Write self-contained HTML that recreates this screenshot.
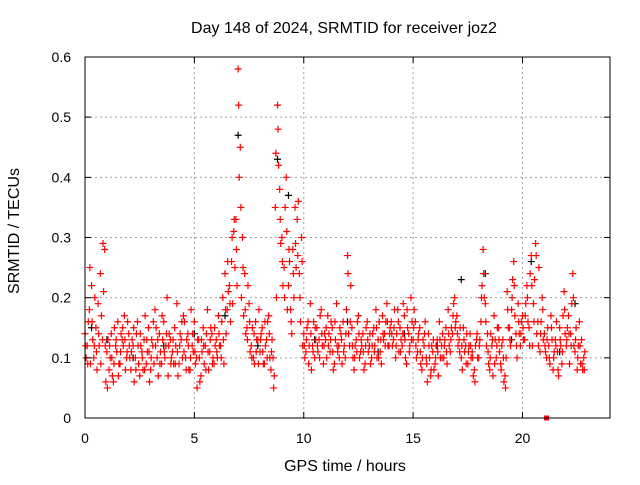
<!DOCTYPE html>
<html><head><meta charset="utf-8"><style>
body{margin:0;background:#fff;}
svg text{font-family:"Liberation Sans",sans-serif;font-size:14px;fill:#000;}
svg text.big{font-size:16px;}
</style></head><body>
<svg id="chart" width="640" height="480" xmlns="http://www.w3.org/2000/svg">
<rect width="640" height="480" fill="#fff"/>
<g id="grid"></g>
<g id="pts"></g>
<rect x="85" y="57" width="525" height="361" fill="none" stroke="#000" stroke-width="1"/>
<g id="ticks"></g>
<text class="big" x="344" y="33" text-anchor="middle">Day 148 of 2024, SRMTID for receiver joz2</text>
<text class="big" x="345" y="471" text-anchor="middle">GPS time / hours</text>
<text class="big" x="19" y="231" text-anchor="middle" transform="rotate(-90 19 231)">SRMTID / TECUs</text>
</svg>
<script>
const xTicks=[0,5,10,15,20];
const yTicks=[0,0.1,0.2,0.3,0.4,0.5,0.6];
const yTickLabels=["0","0.1","0.2","0.3","0.4","0.5","0.6"];
const seriesA=[.14,.12,.18,.22,.10,.15,.19,.24,.13,.28,
.11,.08,.14,.06,.12,.16,.09,.13,.17,.10,
.14,.08,.12,.10,.16,.07,.11,.13,.09,.15,
.08,.12,.18,.10,.14,.09,.16,.12,.07,.13,
.11,.15,.19,.09,.13,.17,.10,.14,.08,.12,
.16,.10,.13,.07,.15,.12,.18,.11,.14,.09,
.13,.17,.12,.20,.24,.18,.22,.26,.31,.33,
.58,.45,.30,.24,.15,.19,.12,.10,.16,.13,
.11,.15,.09,.13,.17,.08,.10,.35,.52,.38,
.30,.25,.40,.22,.18,.28,.35,.33,.24,.30,
.14,.11,.16,.19,.12,.10,.15,.13,.18,.09,
.13,.17,.11,.15,.09,.19,.12,.14,.16,.10,
.27,.12,.15,.08,.13,.17,.11,.14,.09,.16,
.12,.10,.15,.18,.13,.11,.17,.14,.19,.12,
.16,.13,.10,.18,.15,.12,.17,.09,.14,.20,
.13,.16,.11,.15,.08,.12,.10,.14,.07,.11,
.09,.13,.16,.12,.10,.15,.18,.11,.14,.20,
.17,.13,.10,.15,.12,.09,.14,.11,.08,.13,
.10,.16,.28,.19,.14,.08,.12,.17,.10,.15,
.09,.13,.07,.21,.15,.18,.26,.14,.19,.12,
.17,.13,.22,.15,.27,.19,.29,.16,.11,.20,
.14,.10,.12,.17,.08,.13,.11,.15,.09,.21,
.12,.17,.14,.24,.11,.08,.16,.13,.10];
const seriesB=[.10,.16,.09,.13,.20,.08,.12,.17,.21,.06,
.13,.10,.07,.15,.11,.09,.14,.12,.08,.16,
.10,.13,.06,.14,.09,.12,.08,.17,.11,.06,
.13,.09,.15,.07,.11,.13,.10,.20,.14,.10,
.09,.12,.07,.14,.10,.16,.13,.08,.18,.11,
.09,.13,.06,.11,.09,.14,.08,.15,.10,.12,
.10,.12,.16,.09,.14,.21,.16,.19,.25,.22,
.40,.20,.17,.14,.22,.11,.15,.09,.13,.18,
.14,.09,.12,.16,.10,.13,.07,.20,.42,.29,
.22,.35,.18,.26,.14,.20,.25,.36,.16,.12,
.10,.15,.12,.08,.16,.13,.11,.17,.12,.14,
.10,.14,.16,.08,.13,.11,.15,.09,.12,.18,
.14,.22,.10,.12,.16,.10,.12,.08,.15,.11,
.09,.14,.12,.10,.16,.09,.13,.16,.12,.15,
.12,.18,.14,.11,.13,.19,.10,.15,.12,.16,
.18,.10,.14,.09,.13,.16,.06,.10,.12,.08,
.12,.07,.10,.14,.13,.09,.12,.15,.19,.16,
.12,.15,.08,.11,.14,.12,.10,.07,.12,.10,
.13,.22,.20,.12,.09,.14,.07,.13,.15,.11,
.12,.06,.10,.15,.12,.23,.17,.10,.14,.16,
.13,.19,.16,.24,.12,.23,.14,.25,.16,.13,
.11,.15,.09,.13,.11,.16,.07,.12,.17,.14,
.15,.09,.19,.12,.15,.12,.09,.08,.11];
const seriesC=[.12,.09,.25,.16,.12,.11,.14,.09,.29,.12,
.05,.12,.10,.09,.13,.07,.11,.15,.13,.11,
.12,.11,.15,.08,.12,.14,.10,.08,.13,.11,
.10,.16,.12,.13,.09,.17,.11,.14,.12,.09,
.13,.09,.11,.12,.16,.11,.08,.12,.10,.14,
.11,.05,.10,.13,.12,.08,.11,.13,.09,.15,
.11,.14,.10,.13,.18,.26,.19,.30,.33,.28,
.52,.35,.25,.18,.13,.16,.10,.14,.11,.09,
.13,.11,.16,.10,.14,.11,.05,.44,.48,.33,
.26,.20,.31,.28,.16,.24,.29,.27,.20,.26,
.12,.13,.09,.14,.11,.15,.12,.10,.14,.12,
.15,.12,.13,.11,.16,.12,.10,.13,.11,.14,
.24,.16,.12,.10,.11,.14,.13,.11,.12,.13,
.14,.12,.11,.15,.10,.13,.14,.12,.16,.14,
.14,.15,.12,.16,.11,.14,.13,.18,.11,.13,
.15,.12,.13,.11,.10,.14,.09,.12,.08,.13,
.10,.11,.13,.10,.12,.11,.14,.13,.17,.15,
.14,.11,.12,.13,.09,.11,.12,.10,.06,.14,
.12,.20,.24,.16,.11,.10,.13,.09,.12,.13,
.08,.10,.05,.18,.13,.20,.22,.12,.16,.14,
.15,.17,.20,.12,.22,.16,.27,.12,.14,.18,
.12,.13,.10,.15,.10,.12,.08,.13,.11,.18,
.13,.14,.12,.20,.13,.10,.12,.09,.08];
const blackTimes=[0.3,1.0,2.2,3.6,5.0,6.4,7.0,7.9,8.8,9.3,10.5,12.0,13.4,14.6,16.1,17.2,18.3,19.5,20.4,21.7,22.4];
const blackVals=[.15,.13,.10,.12,.14,.17,.47,.12,.43,.37,.13,.16,.11,.14,.12,.23,.24,.13,.26,.11,.19];
const gapTime=21.1, gapVal=0;
const X=t=>85+t*(525/24);
const Y=v=>418-v*(361/0.6);
const NS="http://www.w3.org/2000/svg";
const grid=document.getElementById('grid'),ticks=document.getElementById('ticks'),pts=document.getElementById('pts');
function mk(tag,attrs,parent){const e=document.createElementNS(NS,tag);for(const k in attrs)e.setAttribute(k,attrs[k]);parent.appendChild(e);return e;}
xTicks.forEach(t=>{
 const x=X(t);
 if(t>0){const g=mk('line',{x1:x,x2:x,y1:57,y2:418,stroke:'#a0a0a0','stroke-dasharray':'2,3'},grid);
 
 }
 mk('line',{x1:x,x2:x,y1:418,y2:412,stroke:'#000'},ticks);
 mk('line',{x1:x,x2:x,y1:57,y2:63,stroke:'#000'},ticks);
 const l=mk('text',{x:x,y:443,'text-anchor':'middle'},ticks);l.textContent=t;
 
 
});
yTicks.forEach((v,i)=>{
 const y=Y(v);
 if(v>0&&v<0.6){const g=mk('line',{x1:85,x2:610,y1:y,y2:y,stroke:'#a0a0a0','stroke-dasharray':'2,3'},grid);
 
 }
 mk('line',{x1:85,x2:91,y1:y,y2:y,stroke:'#000'},ticks);
 mk('line',{x1:610,x2:604,y1:y,y2:y,stroke:'#000'},ticks);
 const l=mk('text',{x:71,y:y+5,'text-anchor':'end'},ticks);l.textContent=yTickLabels[i];
 
 
});
function plus(t,v,color,name){
 const x=X(t),y=Y(v);
 const p=mk('path',{d:`M${x-3.5},${y}h7M${x},${y-3.5}v7`,stroke:color,'stroke-width':1.2,fill:'none'},pts);
 
 
}
blackTimes.forEach((t,i)=>plus(t,blackVals[i],'#000','black-point'));
seriesA.forEach((v,i)=>plus(i*0.1,v,'#ff0000','red-point'));
seriesB.forEach((v,i)=>plus(i*0.1+0.05,v,'#ff0000','red-point'));
seriesC.forEach((v,i)=>plus(i*0.1+0.025,v,'#ff0000','red-point'));
const sq=mk('rect',{x:X(gapTime)-2.5,y:Y(gapVal)-2.5,width:5,height:5,fill:'#ff0000'},pts);


</script>
</body></html>
